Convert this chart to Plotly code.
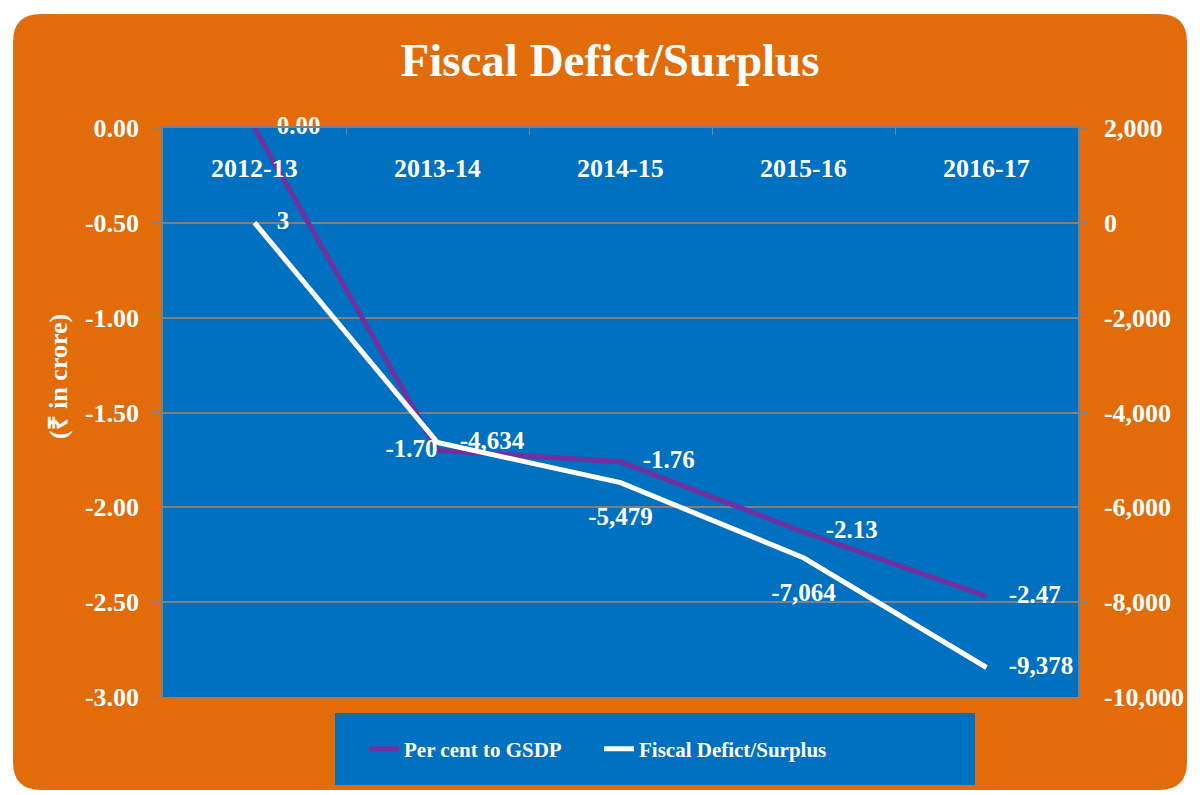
import plotly.graph_objects as go

# ---- data ----
years = ["2012-13", "2013-14", "2014-15", "2015-16", "2016-17"]
pct_gsdp = [0.00, -1.70, -1.76, -2.13, -2.47]
fiscal = [3, -4634, -5479, -7064, -9378]
left_tickvals = [0.0, -0.5, -1.0, -1.5, -2.0, -2.5, -3.0]
left_ticktext = ["0.00", "-0.50", "-1.00", "-1.50", "-2.00", "-2.50", "-3.00"]
right_tickvals = [2000, 0, -2000, -4000, -6000, -8000, -10000]
right_ticktext = ["2,000", "0", "-2,000", "-4,000", "-6,000", "-8,000", "-10,000"]

# ---- style ----
pct_text_pos = ["middle right", "middle left", "middle right", "middle right", "middle right"]
fiscal_text_pos = ["middle right", "middle right", "bottom center", "bottom center", "middle right"]
pct_pad = [34, 0, 34, 34, 34]      # invisible marker sizes used to offset labels
fiscal_pad = [34, 34, 36, 38, 34]

ORANGE = "#E36C0A"
BLUE = "#0070C0"
PURPLE = "#7030A0"
GRID = "#808080"
FONT = "Liberation Serif"

W, H = 1200, 795
ML, MR, MT, MB = 163, 122, 128, 98
PW, PH = W - ML - MR, H - MT - MB


def fx(px):
    return (px - ML) / PW


def fy(py):
    return (H - MB - py) / PH


def rounded_rect(L, T, R, B, r):
    return (
        f"M {fx(L + r)},{fy(T)} L {fx(R - r)},{fy(T)} "
        f"Q {fx(R)},{fy(T)} {fx(R)},{fy(T + r)} "
        f"L {fx(R)},{fy(B - r)} Q {fx(R)},{fy(B)} {fx(R - r)},{fy(B)} "
        f"L {fx(L + r)},{fy(B)} Q {fx(L)},{fy(B)} {fx(L)},{fy(B - r)} "
        f"L {fx(L)},{fy(T + r)} Q {fx(L)},{fy(T)} {fx(L + r)},{fy(T)} Z"
    )


fig = go.Figure()

fig.add_trace(go.Scatter(
    x=years, y=pct_gsdp, name="Per cent to GSDP", mode="lines+markers+text",
    line=dict(color=PURPLE, width=5),
    marker=dict(size=pct_pad, color="rgba(0,0,0,0)", line=dict(width=0)),
    texttemplate="%{y:.2f}", textposition=pct_text_pos,
    textfont=dict(family=FONT, size=25, color="white", weight="bold"),
    cliponaxis=False, yaxis="y",
))
fig.add_trace(go.Scatter(
    x=years, y=fiscal, name="Fiscal Defict/Surplus", mode="lines+markers+text",
    line=dict(color="white", width=5),
    marker=dict(size=fiscal_pad, color="rgba(0,0,0,0)", line=dict(width=0)),
    texttemplate="%{y:,}", textposition=fiscal_text_pos,
    textfont=dict(family=FONT, size=25, color="white", weight="bold"),
    cliponaxis=False, yaxis="y2",
))

shapes = [
    dict(type="path", xref="paper", yref="paper", layer="below",
         path=rounded_rect(13, 14, 1187, 790, 28),
         fillcolor=ORANGE, line=dict(width=0)),
    dict(type="rect", xref="paper", yref="paper", layer="below",
         x0=0, x1=1, y0=0, y1=1, fillcolor=BLUE, line=dict(width=0)),
    dict(type="rect", xref="paper", yref="paper", layer="below",
         x0=fx(335), x1=fx(975), y0=fy(785), y1=fy(713),
         fillcolor=BLUE, line=dict(width=0)),
]

tickfont = dict(family=FONT, size=26, color="white", weight="bold")

# category labels sit inside the plot area, just under the top axis line
cat_labels = [dict(text=yr, x=yr, xref="x", y=fy(168), yref="paper", showarrow=False,
                   xanchor="center", yanchor="middle", font=tickfont) for yr in years]

fig.update_layout(
    width=W, height=H,
    margin=dict(l=ML, r=MR, t=MT, b=MB),
    paper_bgcolor="white",
    plot_bgcolor="rgba(0,0,0,0)",
    font=dict(family=FONT, color="white", weight="bold"),
    title=dict(text="Fiscal Defict/Surplus", x=610 / W, xref="container",
               xanchor="center", y=1 - 60 / H, yref="container", yanchor="middle",
               font=dict(family=FONT, size=47, color="white", weight="bold")),
    shapes=shapes,
    showlegend=True,
    legend=dict(orientation="h", x=fx(364), y=fy(749), xanchor="left", yanchor="middle",
                bgcolor="rgba(0,0,0,0)", itemwidth=30, entrywidth=190,
                font=dict(family=FONT, size=21, color="white", weight="bold")),
    xaxis=dict(type="category", side="top", range=[-0.5, 4.5],
               showline=True, linecolor=GRID, linewidth=1.5,
               ticks="inside", tickson="boundaries", ticklen=7, tickcolor=GRID,
               showticklabels=False, showgrid=False, fixedrange=True),
    yaxis=dict(range=[-3, 0], tickmode="array", tickvals=left_tickvals, ticktext=left_ticktext,
               showline=True, linecolor=GRID, linewidth=1.5,
               ticks="outside", ticklen=8, tickcolor=GRID,
               showgrid=True, gridcolor=GRID, gridwidth=1.5,
               zeroline=False, tickfont=tickfont, ticklabelstandoff=9),
    yaxis2=dict(range=[-10000, 2000], tickmode="array", tickvals=right_tickvals,
                ticktext=right_ticktext, overlaying="y", side="right",
                showline=True, linecolor=GRID, linewidth=1.5,
                ticks="outside", ticklen=8, tickcolor=GRID,
                showgrid=False, zeroline=False, tickfont=tickfont, ticklabelstandoff=11),
    annotations=cat_labels + [dict(text="(₹ in crore)", xref="paper", yref="paper",
                                   x=fx(58), y=fy(377), textangle=-90, showarrow=False,
                                   xanchor="center", yanchor="middle",
                                   font=dict(family=FONT, size=26, color="white",
                                             weight="bold"))],
)

fig.write_html("out.html")
